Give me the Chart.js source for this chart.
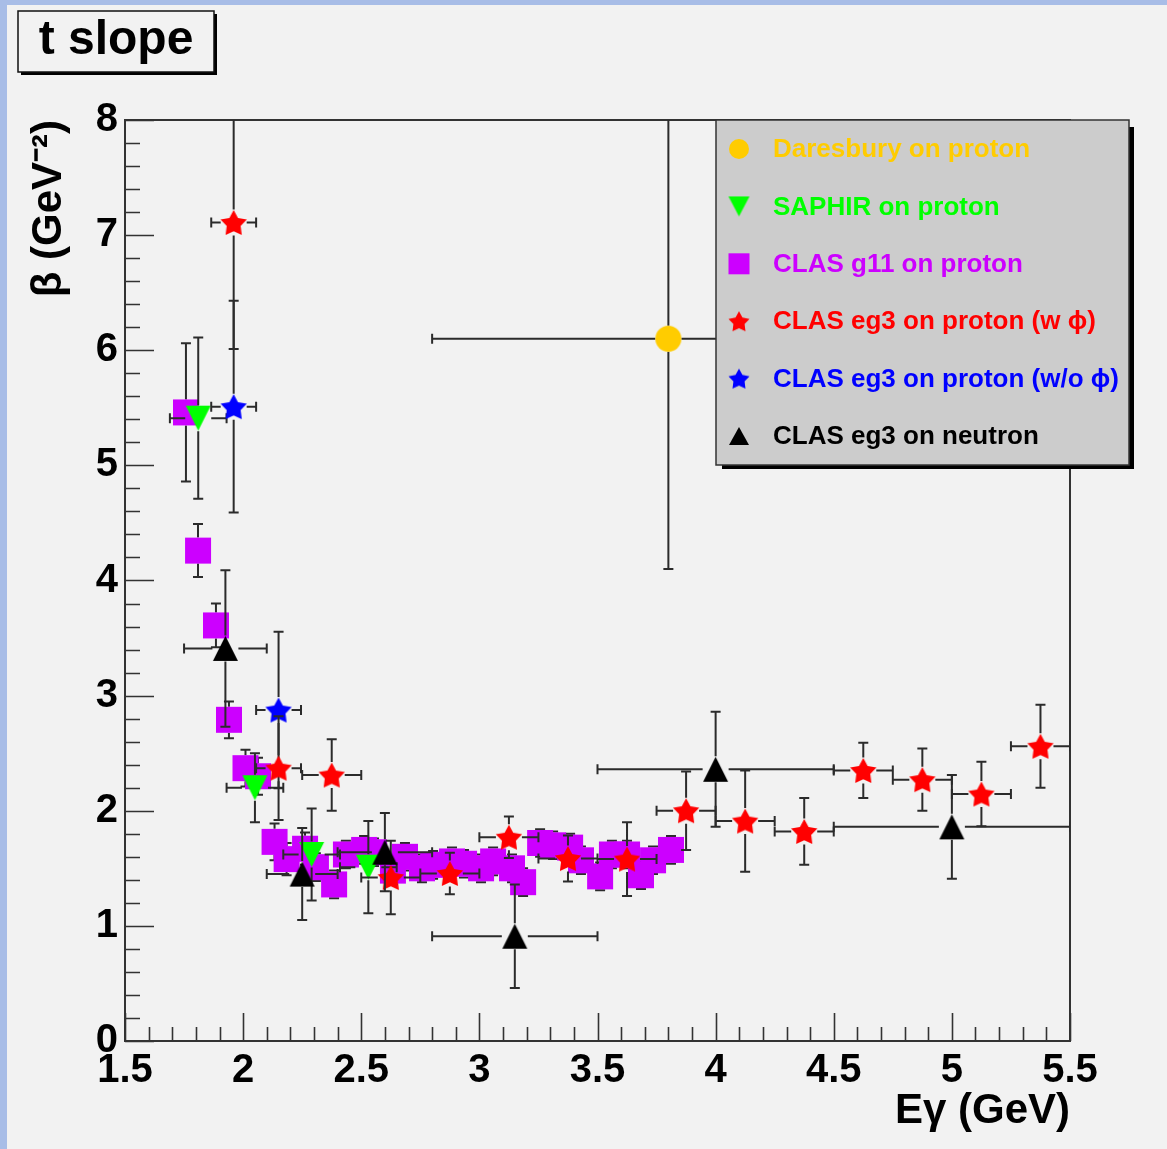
<!DOCTYPE html>
<html><head><meta charset="utf-8">
<script src="https://cdn.jsdelivr.net/npm/chart.js@4.4.1/dist/chart.umd.min.js"></script>
<style>
html,body{margin:0;padding:0;background:#f2f2f2;overflow:hidden;}
canvas{display:block;}
</style></head>
<body>
<canvas id="c" width="1167" height="1149"></canvas>
<script>
// ---------------- data ----------------
const xTickValues = [1.5, 2, 2.5, 3, 3.5, 4, 4.5, 5, 5.5];
const xTickLabels = ['1.5', '2', '2.5', '3', '3.5', '4', '4.5', '5', '5.5'];
const yTickValues = [0, 1, 2, 3, 4, 5, 6, 7, 8];
const yTickLabels = ['0', '1', '2', '3', '4', '5', '6', '7', '8'];

const seriesLabels = ['Daresbury on proton', 'SAPHIR on proton', 'CLAS g11 on proton',
  'CLAS eg3 on proton (w \u03d5)', 'CLAS eg3 on proton (w/o \u03d5)', 'CLAS eg3 on neutron'];

const daresburyE    = [3.8];
const daresburyB    = [6.1];
const daresburyEErr = [1.0];
const daresburyBErr = [2.0];

const saphirE    = [1.81, 2.05, 2.29, 2.53];
const saphirB    = [5.41, 2.20, 1.62, 1.51];
const saphirEErr = [0.12, 0.12, 0.12, 0.12];
const saphirBErr = [0.70, 0.30, 0.40, 0.40];

const g11E = [1.758, 1.809, 1.885, 1.940, 2.010, 2.063, 2.133, 2.184, 2.262, 2.308,
              2.385, 2.435, 2.512, 2.554, 2.634, 2.685, 2.757, 2.804, 2.884, 2.935,
              3.007, 3.058, 3.138, 3.185, 3.257, 3.312, 3.384, 3.430, 3.511, 3.561,
              3.625, 3.684, 3.735, 3.811];
const g11B = [5.46, 4.26, 3.61, 2.79, 2.37, 2.30, 1.73, 1.58, 1.67, 1.51,
              1.36, 1.62, 1.66, 1.64, 1.48, 1.60, 1.50, 1.53, 1.56, 1.54,
              1.50, 1.56, 1.50, 1.38, 1.72, 1.70, 1.68, 1.57, 1.43, 1.62,
              1.62, 1.44, 1.57, 1.66];
const g11BErr = [0.60, 0.23, 0.19, 0.16, 0.16, 0.16, 0.16, 0.14, 0.14, 0.12,
                 0.12, 0.12, 0.12, 0.12, 0.12, 0.12, 0.12, 0.12, 0.12, 0.12,
                 0.12, 0.12, 0.12, 0.12, 0.12, 0.12, 0.12, 0.12, 0.12, 0.12,
                 0.12, 0.12, 0.12, 0.12];

const eg3WithE    = [1.96, 2.15, 2.375, 2.625, 2.875, 3.125, 3.375, 3.625, 3.875, 4.125, 4.375, 4.625, 4.875, 5.125, 5.375];
const eg3WithB    = [7.11, 2.37, 2.31, 1.42, 1.455, 1.77, 1.585, 1.58, 2.00, 1.91, 1.82, 2.35, 2.27, 2.145, 2.56];
const eg3WithEErr = [0.095, 0.095, 0.125, 0.125, 0.125, 0.125, 0.125, 0.125, 0.125, 0.125, 0.125, 0.125, 0.125, 0.125, 0.125];
const eg3WithBErr = [1.10, 0.45, 0.31, 0.32, 0.18, 0.18, 0.20, 0.32, 0.34, 0.44, 0.29, 0.24, 0.27, 0.28, 0.36];

const eg3WithoutE    = [1.96, 2.15];
const eg3WithoutB    = [5.51, 2.875];
const eg3WithoutEErr = [0.095, 0.095];
const eg3WithoutBErr = [0.92, 0.68];

const neutronE    = [1.925, 2.25, 2.6, 3.15, 4.0, 5.0];
const neutronB    = [3.41, 1.45, 1.64, 0.91, 2.36, 1.86];
const neutronEErr = [0.175, 0.15, 0.20, 0.35, 0.50, 0.50];
const neutronBErr = [0.68, 0.40, 0.34, 0.45, 0.50, 0.45];

// ---------------- styling ----------------
const FONT = "'Liberation Sans', Arial, Helvetica, sans-serif";
const colYellow = '#ffcc00', colGreen = '#00ff00', colMagenta = '#cc00ff',
      colRed = '#ff0000', colBlue = '#0000ff', colBlack = '#000000';

function makeMarker(type, color, w, h) {
  const c = document.createElement('canvas');
  c.width = Math.ceil(w) + 2; c.height = Math.ceil(h) + 2;
  const g = c.getContext('2d');
  const cx = c.width / 2, cy = c.height / 2;
  g.fillStyle = color; g.beginPath();
  if (type === 'triUp') {
    g.moveTo(cx, cy - h / 2); g.lineTo(cx + w / 2, cy + h / 2); g.lineTo(cx - w / 2, cy + h / 2);
  } else if (type === 'triDown') {
    g.moveTo(cx, cy + h / 2); g.lineTo(cx + w / 2, cy - h / 2); g.lineTo(cx - w / 2, cy - h / 2);
  } else if (type === 'star') {
    const R = h / 1.809, off = 0.0955 * R;
    for (let k = 0; k < 10; k++) {
      const r = k % 2 ? R * 0.53 : R;
      const a = -Math.PI / 2 + k * Math.PI / 5;
      g.lineTo(cx + r * Math.cos(a), cy + off + r * Math.sin(a));
    }
  } else if (type === 'square') {
    g.rect(cx - w / 2, cy - h / 2, w, h);
  } else {
    g.arc(cx, cy, w / 2, 0, 2 * Math.PI);
  }
  g.closePath(); g.fill();
  return c;
}

const pts = (xs, ys) => xs.map((x, i) => ({x: x, y: ys[i]}));

const datasets = [
  {label: seriesLabels[0], data: pts(daresburyE, daresburyB), errX: daresburyEErr, errY: daresburyBErr,
   pointStyle: makeMarker('circle', colYellow, 26, 26), legendStyle: makeMarker('circle', colYellow, 20, 20),
   textColor: colYellow, order: 5},
  {label: seriesLabels[1], data: pts(saphirE, saphirB), errX: saphirEErr, errY: saphirBErr,
   pointStyle: makeMarker('triDown', colGreen, 25, 25), legendStyle: makeMarker('triDown', colGreen, 21, 20),
   textColor: colGreen, order: 4},
  {label: seriesLabels[2], data: pts(g11E, g11B), errX: null, errY: g11BErr,
   pointStyle: makeMarker('square', colMagenta, 26, 26), legendStyle: makeMarker('square', colMagenta, 21, 21),
   textColor: colMagenta, order: 9},
  {label: seriesLabels[3], data: pts(eg3WithE, eg3WithB), errX: eg3WithEErr, errY: eg3WithBErr,
   pointStyle: makeMarker('star', colRed, 26, 25), legendStyle: makeMarker('star', colRed, 20, 20),
   textColor: colRed, order: 2},
  {label: seriesLabels[4], data: pts(eg3WithoutE, eg3WithoutB), errX: eg3WithoutEErr, errY: eg3WithoutBErr,
   pointStyle: makeMarker('star', colBlue, 26, 25), legendStyle: makeMarker('star', colBlue, 20, 20),
   textColor: colBlue, order: 3},
  {label: seriesLabels[5], data: pts(neutronE, neutronB), errX: neutronEErr, errY: neutronBErr,
   pointStyle: makeMarker('triUp', colBlack, 25, 25), legendStyle: makeMarker('triUp', colBlack, 20, 18),
   textColor: colBlack, order: 1}
];
datasets.forEach(d => { d.pointRadius = 13; d.pointHoverRadius = 13; d.showLine = false; d.borderWidth = 0; });

// ---------------- plugins ----------------
const background = {
  id: 'background',
  beforeDraw(chart) {
    const ctx = chart.ctx;
    ctx.save();
    ctx.fillStyle = '#a8bde7';
    ctx.fillRect(0, 0, chart.width, chart.height);
    ctx.fillStyle = '#f2f2f2';
    ctx.fillRect(7, 5, chart.width - 7, chart.height - 5);
    ctx.restore();
  }
};

const frameAndTicks = {
  id: 'frameAndTicks',
  beforeDatasetsDraw(chart) {
    const {ctx, chartArea: a, scales: {x, y}} = chart;
    ctx.save();
    ctx.strokeStyle = '#333333';
    ctx.lineWidth = 2;
    ctx.strokeRect(a.left, a.top, a.right - a.left, a.bottom - a.top);
    ctx.lineWidth = 1.6;
    ctx.beginPath();
    for (let v = x.min; v <= x.max + 1e-9; v += 0.1) {
      const px = Math.round(x.getPixelForValue(v)) + 0.5;
      const major = Math.abs(v * 2 - Math.round(v * 2)) < 1e-6;
      ctx.moveTo(px, a.bottom); ctx.lineTo(px, a.bottom - (major ? 28 : 14));
    }
    for (let v = y.min; v <= y.max + 1e-9; v += 0.2) {
      const py = Math.round(y.getPixelForValue(v)) + 0.5;
      const major = Math.abs(v - Math.round(v)) < 1e-6;
      ctx.moveTo(a.left, py); ctx.lineTo(a.left + (major ? 29 : 15), py);
    }
    ctx.stroke();
    ctx.restore();
  }
};

const errorBars = {
  id: 'errorBars',
  beforeDatasetDraw(chart, args) {
    const ds = chart.data.datasets[args.index];
    const {ctx, chartArea: a, scales: {x, y}} = chart;
    const gap = 13, cap = 5;
    ctx.save();
    ctx.beginPath();
    ctx.rect(a.left, a.top, a.right - a.left, a.bottom - a.top);
    ctx.clip();
    ctx.strokeStyle = '#2b2b2b';
    ctx.lineWidth = 2;
    ctx.beginPath();
    ds.data.forEach((p, i) => {
      const px = x.getPixelForValue(p.x), py = y.getPixelForValue(p.y);
      const ex = ds.errX ? ds.errX[i] : 0, ey = ds.errY ? ds.errY[i] : 0;
      if (ex > 0) {
        const l = x.getPixelForValue(p.x - ex), r = x.getPixelForValue(p.x + ex);
        if (px - gap > l) { ctx.moveTo(l, py); ctx.lineTo(px - gap, py); }
        if (r > px + gap) { ctx.moveTo(px + gap, py); ctx.lineTo(r, py); }
        ctx.moveTo(l, py - cap); ctx.lineTo(l, py + cap);
        ctx.moveTo(r, py - cap); ctx.lineTo(r, py + cap);
      }
      if (ey > 0) {
        const t = y.getPixelForValue(p.y + ey), b = y.getPixelForValue(p.y - ey);
        if (py - gap > t) { ctx.moveTo(px, t); ctx.lineTo(px, py - gap); }
        if (b > py + gap) { ctx.moveTo(px, py + gap); ctx.lineTo(px, b); }
        ctx.moveTo(px - cap, t); ctx.lineTo(px + cap, t);
        ctx.moveTo(px - cap, b); ctx.lineTo(px + cap, b);
      }
    });
    ctx.stroke();
    ctx.restore();
  }
};

const rootLegendAndTitle = {
  id: 'rootLegendAndTitle',
  afterDraw(chart) {
    const ctx = chart.ctx;
    ctx.save();
    // legend box
    ctx.fillStyle = '#000';
    ctx.fillRect(722, 127, 412, 342);
    ctx.fillStyle = '#cccccc';
    ctx.fillRect(716, 120, 413, 345);
    ctx.strokeStyle = '#333';
    ctx.lineWidth = 1.5;
    ctx.strokeRect(716, 120, 413, 345);
    ctx.font = 'bold 26px ' + FONT;
    ctx.textBaseline = 'middle';
    ctx.textAlign = 'left';
    chart.data.datasets.forEach((ds, i) => {
      const cy = 149 + i * 57.4;
      const m = ds.legendStyle;
      ctx.drawImage(m, 739 - m.width / 2, cy - m.height / 2);
      ctx.fillStyle = ds.textColor;
      ctx.fillText(ds.label, 773, cy + 1);
    });
    // title box
    ctx.fillStyle = '#000';
    ctx.fillRect(21, 14, 196, 61);
    ctx.fillStyle = '#f2f2f2';
    ctx.fillRect(18, 11, 196, 61);
    ctx.strokeStyle = '#111';
    ctx.lineWidth = 1.5;
    ctx.strokeRect(18, 11, 196, 61);
    ctx.fillStyle = '#000';
    ctx.font = 'bold 48px ' + FONT;
    ctx.textAlign = 'center';
    ctx.textBaseline = 'alphabetic';
    ctx.fillText('t slope', 116, 54);
    ctx.restore();
  }
};

const tickFont = {family: FONT, size: 40, weight: 'bold'};
const titleFont = {family: FONT, size: 42, weight: 'bold'};

new Chart(document.getElementById('c'), {
  type: 'scatter',
  data: {datasets: datasets},
  options: {
    responsive: false,
    devicePixelRatio: 1,
    animation: false,
    events: [],
    layout: {padding: {left: 0, top: 120, right: 97, bottom: 0}},
    plugins: {legend: {display: false}, tooltip: {enabled: false}},
    scales: {
      x: {
        type: 'linear', min: 1.5, max: 5.5,
        afterBuildTicks: s => { s.ticks = xTickValues.map(v => ({value: v})); },
        afterFit: s => { s.height = 108; },
        ticks: {font: tickFont, color: '#000', padding: 6, maxRotation: 0, autoSkip: false,
                callback: (v, i) => xTickLabels[i]},
        grid: {display: false, drawTicks: false},
        border: {display: false},
        title: {display: true, text: 'E\u03b3 (GeV)', align: 'end', font: titleFont, color: '#000',
                padding: {top: 0, bottom: 12}}
      },
      y: {
        type: 'linear', min: 0, max: 8,
        afterBuildTicks: s => { s.ticks = yTickValues.map(v => ({value: v})); },
        afterFit: s => { s.width = 125; },
        ticks: {font: tickFont, color: '#000', padding: 7, autoSkip: false,
                callback: (v, i) => yTickLabels[i]},
        grid: {display: false, drawTicks: false},
        border: {display: false},
        title: {display: true, text: '\u03b2 (GeV\u207b\u00b2)', align: 'end', font: titleFont, color: '#000',
                padding: {top: 24, bottom: 0}}
      }
    }
  },
  plugins: [background, frameAndTicks, errorBars, rootLegendAndTitle]
});
</script>
</body></html>
